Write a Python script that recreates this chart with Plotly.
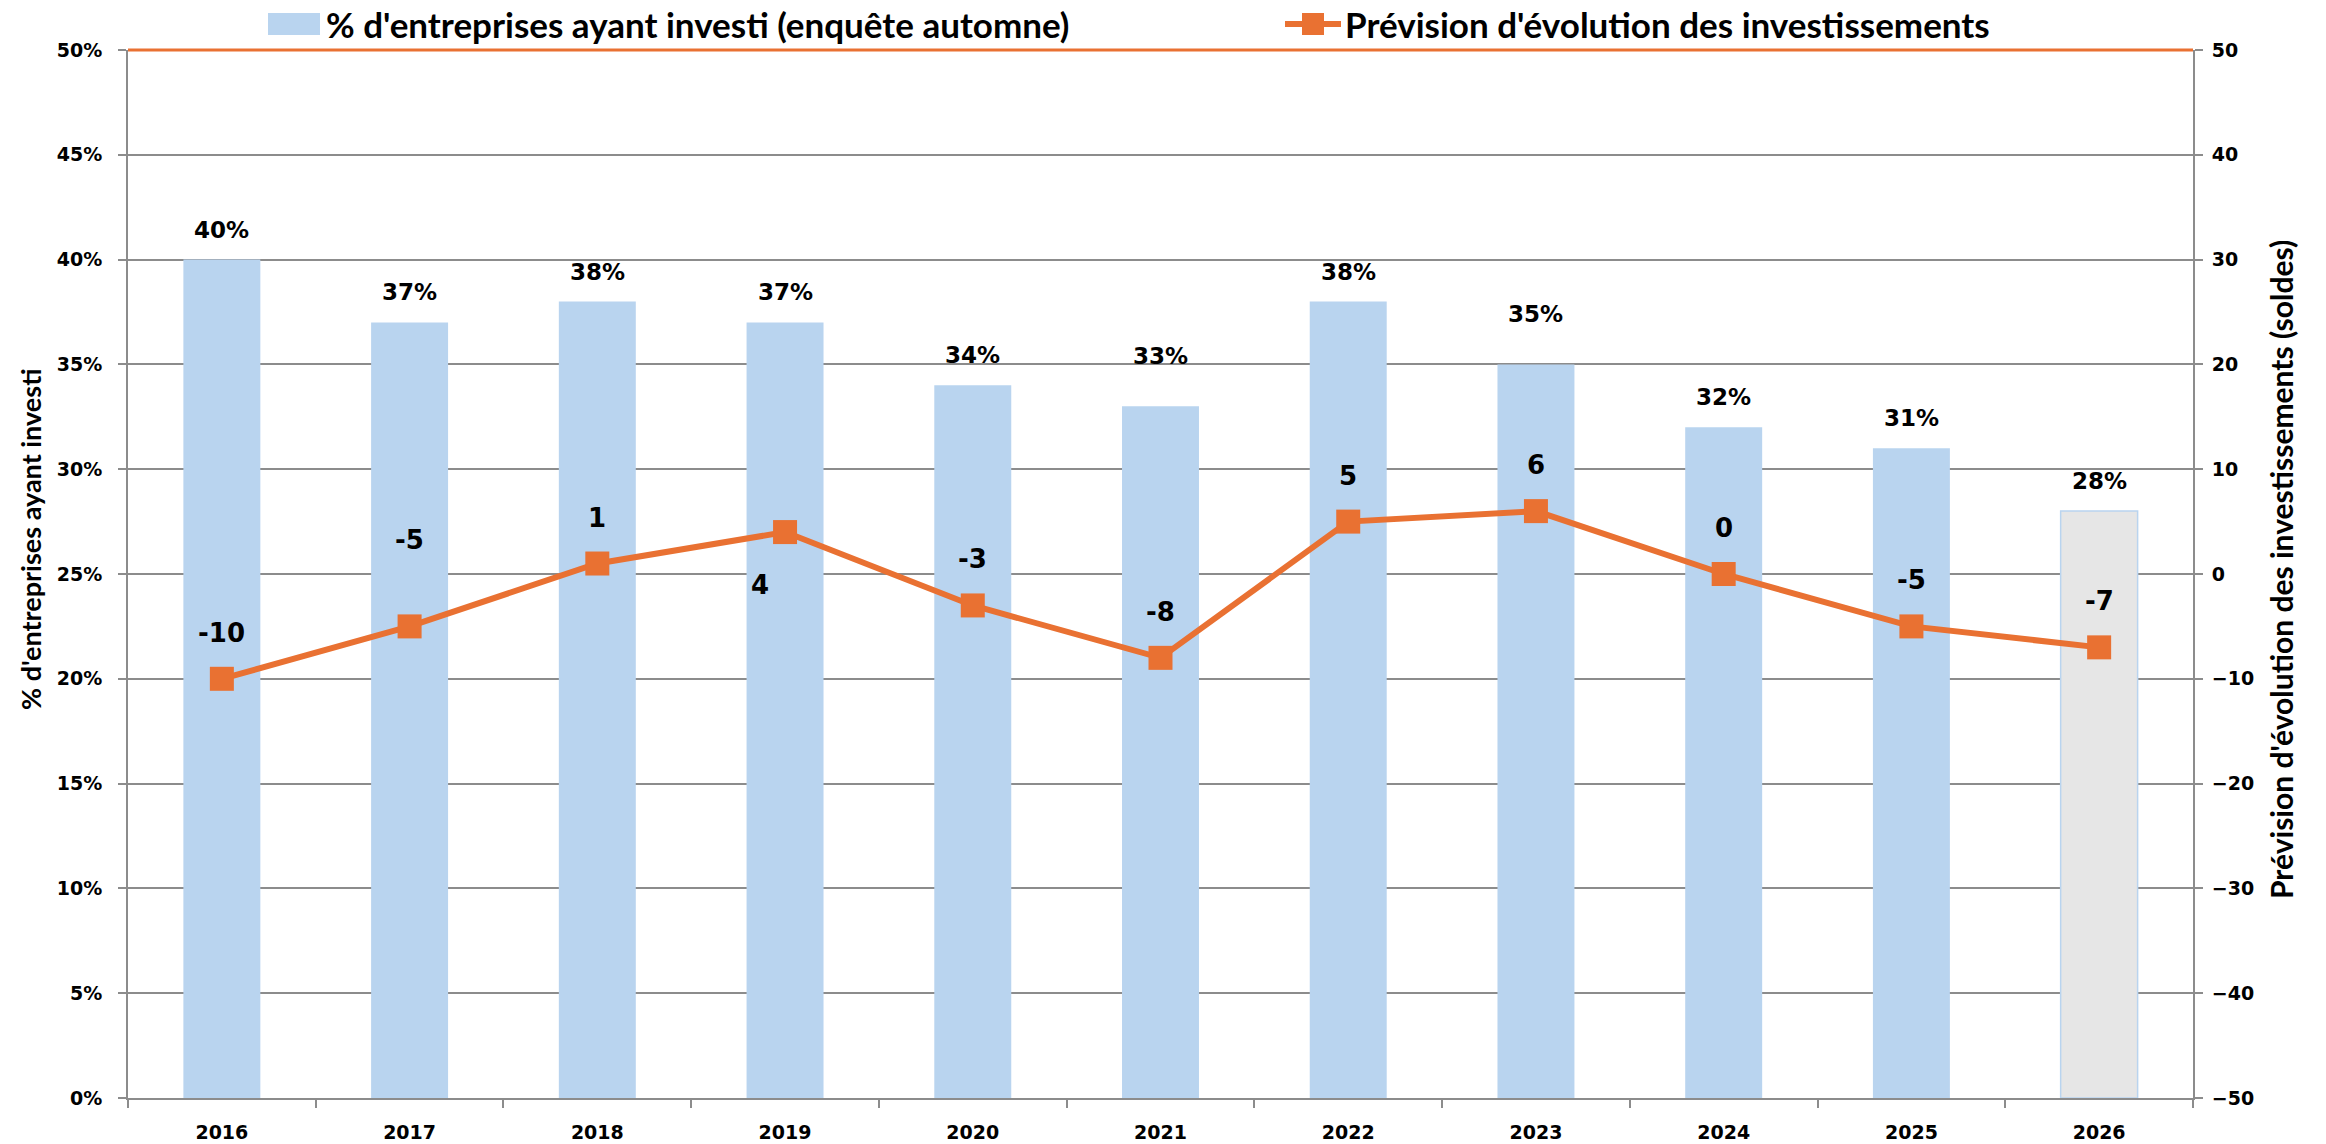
import plotly.graph_objects as go

years = ["2016", "2017", "2018", "2019", "2020", "2021", "2022", "2023", "2024", "2025", "2026"]
pct_invested = [0.40, 0.37, 0.38, 0.37, 0.34, 0.33, 0.38, 0.35, 0.32, 0.31, 0.28]
forecast_balance = [-10, -5, 1, 4, -3, -8, 5, 6, 0, -5, -7]

bar_name = "% d'entreprises ayant investi (enquête automne)"
line_name = "Prévision d'évolution des investissements"
left_title = "% d'entreprises ayant investi"
right_title = "Prévision d'évolution des investissements (soldes)"

# label placement tweaks (pixels)
bar_label_shift = [30, 30, 30, 30, 30, 50, 30, 50, 30, 30, 30]
line_label_shift = [46, 86, 46, -53, 46, 46, 46, 46, 46, 46, 46]
line_label_xshift = [0, 0, 0, -25, 0, 0, 0, 0, 0, 0, 0]

BLUE = "#b9d4ef"
GREY = "#e6e6e6"
ORANGE = "#e97132"
GRID = "#8c8c8c"
NUM_FONT = "DejaVu Sans"
TXT_FONT = "Lato, Open Sans, sans-serif"

W, H = 2326, 1144
ML, MR, MT, MB = 128, 133, 50, 46
PW, PH = W - ML - MR, H - MT - MB


def px(x):
    return (x - ML) / PW


def py(y):
    return (H - MB - y) / PH


bar_colors = [BLUE] * (len(years) - 1) + [GREY]
bar_line_w = [0] * (len(years) - 1) + [1.5]

fig = go.Figure()
fig.add_trace(go.Bar(
    x=years, y=pct_invested, name=bar_name,
    marker=dict(color=bar_colors, line=dict(color=BLUE, width=bar_line_w)),
    width=0.41, yaxis="y", showlegend=False,
))
fig.add_trace(go.Scatter(
    x=years, y=forecast_balance, name=line_name, yaxis="y2",
    mode="lines+markers",
    line=dict(color=ORANGE, width=6),
    marker=dict(symbol="square", size=24, color=ORANGE),
    showlegend=False,
))

annotations = []
for i, v in enumerate(pct_invested):
    annotations.append(dict(
        x=i, y=v, xref="x", yref="y", text=f"{round(v*100)}%",
        showarrow=False, yshift=bar_label_shift[i],
        font=dict(family=NUM_FONT, size=23, color="black", weight="bold"),
    ))
for i, v in enumerate(forecast_balance):
    annotations.append(dict(
        x=i, y=v, xref="x", yref="y2", text=str(v),
        showarrow=False, yshift=line_label_shift[i], xshift=line_label_xshift[i],
        font=dict(family=NUM_FONT, size=26, color="black", weight="bold"),
    ))
# axis titles
annotations.append(dict(
    x=0, xref="paper", xanchor="center", xshift=-98, y=0.5, yref="paper", yshift=35,
    text=left_title, textangle=-90, showarrow=False,
    font=dict(family=TXT_FONT, size=27, color="black", weight="bold"),
))
annotations.append(dict(
    x=1, xref="paper", xanchor="center", xshift=88, y=0.5, yref="paper", yshift=4,
    text=right_title, textangle=-90, showarrow=False,
    font=dict(family=TXT_FONT, size=30, color="black", weight="bold"),
))
# legend texts
annotations.append(dict(
    x=px(324), y=py(24), xref="paper", yref="paper", xanchor="left", yanchor="middle",
    text=bar_name, showarrow=False,
    font=dict(family=TXT_FONT, size=35, color="black", weight="bold"),
))
annotations.append(dict(
    x=px(1343), y=py(24), xref="paper", yref="paper", xanchor="left", yanchor="middle",
    text=line_name, showarrow=False,
    font=dict(family=TXT_FONT, size=35, color="black", weight="bold"),
))

shapes = [
    # orange top border
    dict(type="line", xref="paper", yref="paper", x0=0, x1=1, y0=1, y1=1,
         line=dict(color=ORANGE, width=3)),
    # legend: bar swatch
    dict(type="rect", xref="paper", yref="paper", x0=px(268), x1=px(320),
         y0=py(35), y1=py(13), fillcolor=BLUE, line=dict(width=0)),
    # legend: line + square marker
    dict(type="line", xref="paper", yref="paper", x0=px(1285), x1=px(1341),
         y0=py(24), y1=py(24), line=dict(color=ORANGE, width=6)),
    dict(type="rect", xref="paper", yref="paper", x0=px(1302), x1=px(1324),
         y0=py(35), y1=py(13), fillcolor=ORANGE, line=dict(width=0)),
]

fig.update_layout(
    width=W, height=H,
    margin=dict(l=ML, r=MR, t=MT, b=MB, autoexpand=False),
    plot_bgcolor="white", paper_bgcolor="white",
    showlegend=False,
    xaxis=dict(
        type="category", range=[-0.5, len(years) - 0.5], automargin=False,
        tickson="boundaries", ticks="outside", ticklen=8, tickangle=0,
        tickcolor=GRID, tickwidth=2, showline=True, linecolor=GRID, linewidth=2,
        showgrid=False, ticklabelstandoff=16,
        tickfont=dict(family=NUM_FONT, size=19, color="black", weight="bold"),
    ),
    yaxis=dict(
        range=[0, 0.5], dtick=0.05, tickformat=".0%", automargin=False,
        showgrid=True, gridcolor=GRID, gridwidth=2,
        showline=True, linecolor=GRID, linewidth=2,
        ticks="outside", ticklen=8, tickcolor=GRID, tickwidth=2,
        zeroline=False, ticklabelstandoff=12,
        tickfont=dict(family=NUM_FONT, size=19, color="black", weight="bold"),
    ),
    yaxis2=dict(
        range=[-50, 50], dtick=10, overlaying="y", side="right", automargin=False,
        showgrid=False, showline=True, linecolor=GRID, linewidth=2,
        ticks="outside", ticklen=8, tickcolor=GRID, tickwidth=2,
        zeroline=False, tickformat="d", ticklabelstandoff=5,
        tickfont=dict(family=NUM_FONT, size=19, color="black", weight="bold"),
    ),
    annotations=annotations,
    shapes=shapes,
)

fig.write_html(
    "out.html",
    config={"displayModeBar": False},
    post_script="document.body.style.margin='0';document.body.style.overflow='hidden';",
)
